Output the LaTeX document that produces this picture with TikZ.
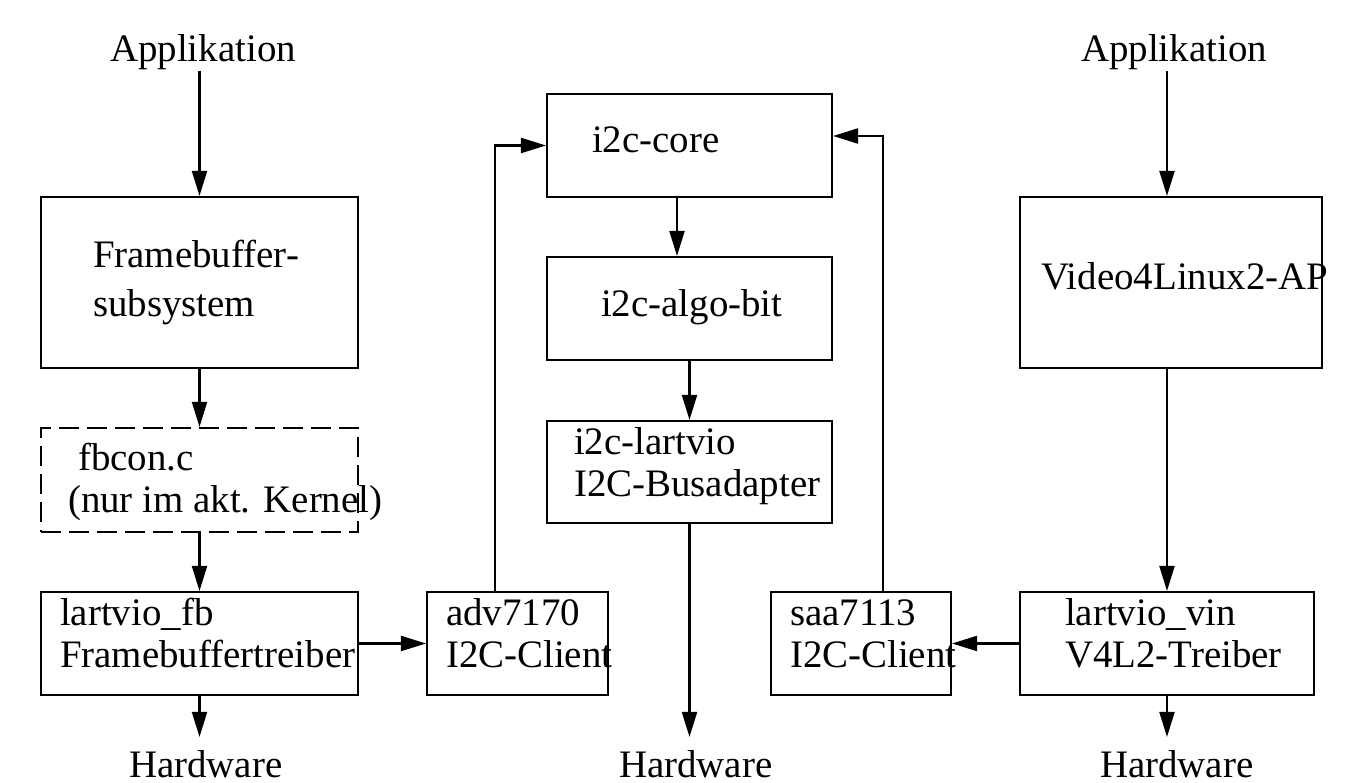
\documentclass[tikz,border=0pt]{standalone}
\usepackage{fontspec}
\setmainfont{Liberation Serif}
\usetikzlibrary{arrows.meta}

\begin{document}
\begin{tikzpicture}[line width=0.6pt,
  box/.style={draw, inner sep=0pt},
  lbl/.style={inner sep=0pt, align=left, anchor=base west, font=\fontsize{11.07}{12.2}\selectfont},
  arr/.style={-{Triangle[length=2.5mm,width=1.5mm]}}]
  \useasboundingbox (0,0) rectangle (13.65,-7.83);

  % boxes
  \node[box, minimum width=3.17cm, minimum height=1.71cm] (fb) at (1.995,-2.825) {};
  \node[box, dashed, dash pattern=on 2mm off 0.8mm, minimum width=3.17cm, minimum height=1.04cm] (fbcon) at (1.995,-4.80) {};
  \node[box, minimum width=3.17cm, minimum height=1.03cm] (lfb) at (1.995,-6.435) {};
  \node[box, minimum width=1.81cm, minimum height=1.03cm] (adv) at (5.175,-6.435) {};
  \node[box, minimum width=2.85cm, minimum height=1.03cm] (core) at (6.895,-1.455) {};
  \node[box, minimum width=2.85cm, minimum height=1.03cm] (algo) at (6.895,-3.085) {};
  \node[box, minimum width=2.85cm, minimum height=1.02cm] (i2cl) at (6.895,-4.72) {};
  \node[box, minimum width=1.80cm, minimum height=1.03cm] (saa) at (8.61,-6.435) {};
  \node[box, minimum width=2.94cm, minimum height=1.03cm] (vin) at (11.67,-6.435) {};
  \node[box, minimum width=3.02cm, minimum height=1.71cm] (v4l) at (11.71,-2.825) {};

  % texts (base = last line)
  \node[lbl] (appl) at (1.09,-0.62) {Applikation};
  \node[lbl] (appr) at (10.80,-0.62) {Applikation};
  \node[lbl] (hwl) at (1.28,-7.78) {Hardware};
  \node[lbl] (hwm) at (6.18,-7.78) {Hardware};
  \node[lbl] (hwr) at (10.99,-7.78) {Hardware};
  \node[lbl] (fbt) at (0.92,-3.17) {Framebuffer-\\[2pt]subsystem};
  \node[lbl] (fbcont) at (0.67,-5.13) {\hspace*{0.1cm}fbcon.c\\(nur im akt. Kernel)};
  \node[lbl] (lfbt) at (0.59,-6.68) {lartvio\_fb\\Framebuffertreiber};
  \node[lbl] (advt) at (4.45,-6.68) {adv7170\\I2C-Client};
  \node[lbl] (coret) at (5.91,-1.53) {i2c-core};
  \node[lbl] (algot) at (6.00,-3.17) {i2c-algo-bit};
  \node[lbl] (i2clt) at (5.73,-4.97) {i2c-lartvio\\I2C-Busadapter};
  \node[lbl] (saat) at (7.89,-6.68) {saa7113\\I2C-Client};
  \node[lbl] (vint) at (10.64,-6.68) {lartvio\_vin\\V4L2-Treiber};
  \node[lbl] (v4lt) at (10.40,-2.90) {Video4Linux2-AP};

  % left column
  \draw[arr] (fb.north |- appl.south) -- (fb.north);
  \draw[arr] (fb) -- (fbcon);
  \draw[arr] (fbcon) -- (lfb);
  \draw[arr, shorten >=1.3mm] (lfb) -- (lfb.south |- hwl.north);
  \draw[arr] (lfb) -- (adv);

  % i2c column
  \draw[arr] ([xshift=-2.25mm]adv.north) |- (core);
  \draw[arr] ([xshift=-1.25mm]core.south) -- ([xshift=-1.25mm]algo.north);
  \draw[arr] (algo) -- (i2cl);
  \draw[arr, shorten >=1.3mm] (i2cl) -- (i2cl.south |- hwm.north);
  \draw[arr] ([xshift=2.2mm]saa.north) |- ([yshift=0.95mm]core.east);

  % right column
  \draw[arr] (vin.north |- appr.south) -- (vin.north |- v4l.north);
  \draw[arr] (v4l.south -| vin.north) -- (vin.north);
  \draw[arr] (vin) -- (saa);
  \draw[arr, shorten >=1.3mm] (vin) -- (vin.south |- hwr.north);
\end{tikzpicture}
\end{document}
